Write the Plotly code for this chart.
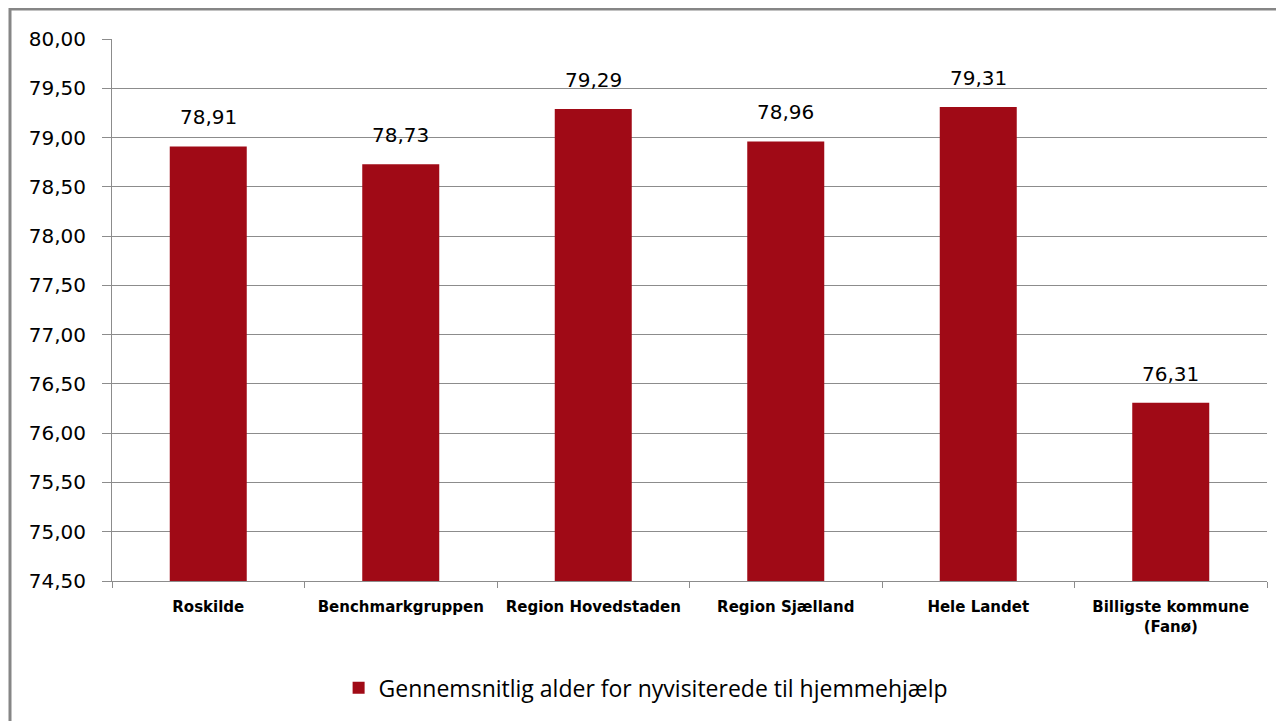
import plotly.graph_objects as go

categories = ["Roskilde", "Benchmarkgruppen", "Region Hovedstaden", "Region Sjælland",
              "Hele Landet", "Billigste kommune<br>(Fanø)"]
values = [78.91, 78.73, 79.29, 78.96, 79.31, 76.31]
series_name = "Gennemsnitlig alder for nyvisiterede til hjemmehjælp"
y_ticks = [74.5, 75.0, 75.5, 76.0, 76.5, 77.0, 77.5, 78.0, 78.5, 79.0, 79.5, 80.0]

bar_color = "#A00A16"
grid_color = "#8C8C8C"

fig = go.Figure()
fig.add_trace(go.Bar(x=categories, y=values, name=series_name,
                     marker=dict(color=bar_color, line=dict(width=0)),
                     showlegend=True))

for c, v in zip(categories, values):
    fig.add_annotation(x=c, y=v, text=f"{v:.2f}".replace(".", ","),
                       showarrow=False, yanchor="bottom", yshift=15,
                       font=dict(family="DejaVu Sans", size=20, color="#000000"))

fig.update_layout(
    width=1284, height=721,
    margin=dict(l=104, r=25, t=31, b=148, autoexpand=False),
    paper_bgcolor="white", plot_bgcolor="white",
    separators=",.",
    bargap=0.6,
    showlegend=True,
    legend=dict(orientation="h", x=0.462, xanchor="center", y=-0.197, yanchor="middle",
                font=dict(family="Open Sans", size=23, color="#000000"),
                itemwidth=30, traceorder="normal"),
    xaxis=dict(showline=True, linecolor=grid_color, linewidth=1,
               ticks="outside", tickson="boundaries", ticklen=6, tickcolor=grid_color,
               ticklabelstandoff=12,
               tickfont=dict(family="DejaVu Sans", size=15, color="#000000", weight="bold"),
               showgrid=False),
    yaxis=dict(range=[74.5, 80.0], tickvals=y_ticks, tickformat=".2f",
               showline=True, linecolor=grid_color, linewidth=1,
               ticks="outside", ticklen=9, tickcolor=grid_color,
               ticklabelstandoff=12,
               showgrid=True, gridcolor=grid_color, gridwidth=1,
               tickfont=dict(family="DejaVu Sans", size=20, color="#000000"),
               zeroline=False),
    shapes=[dict(type="rect", xref="paper", yref="paper",
                 x0=(2 - 104) / 1155, x1=1.2, y0=-0.5, y1=(573 - 1) / 542,
                 line=dict(color="#868686", width=3), fillcolor="rgba(0,0,0,0)",
                 layer="below")],
)

fig.write_html("out.html")
